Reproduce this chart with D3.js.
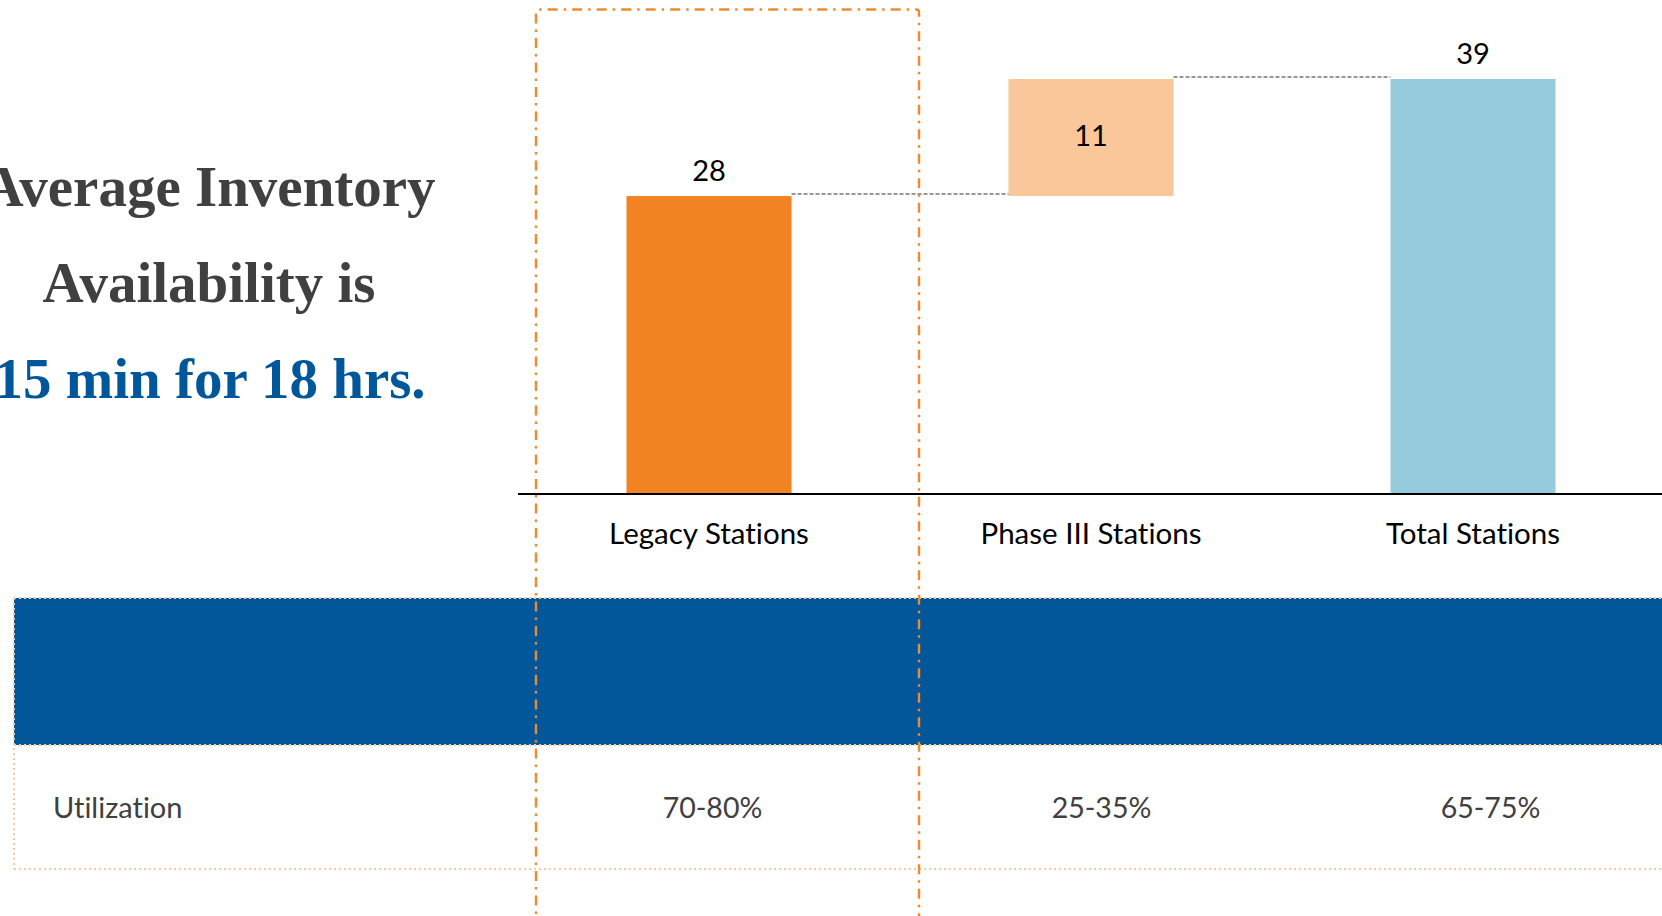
<!DOCTYPE html>
<html>
<head>
<meta charset="utf-8">
<script src="https://cdn.jsdelivr.net/npm/d3@7"></script>
<style>
  html, body { margin: 0; padding: 0; background: #ffffff; overflow: hidden; }
  svg { display: block; }
  text { font-variant-ligatures: none; font-feature-settings: "liga" 0, "clig" 0; }
</style>
</head>
<body>
<svg id="chart" width="1662" height="916"></svg>
<script>
// ---- data ----
const categories = ["Legacy Stations", "Phase III Stations", "Total Stations"];
const stationCounts = [28, 11, 39];
const barKinds = ["base", "delta", "total"];
const utilization = ["70-80%", "25-35%", "65-75%"];
const rowLabel = "Utilization";
const headlineDark = ["Average Inventory", "Availability is"];
const headlineBlue = "15 min for 18 hrs.";

// ---- styles ----
const colors = {
  base: "#F28322",
  delta: "#F9C79A",
  total: "#95CBDD",
  band: "#02569A",
  dark: "#404040",
  blue: "#02569A",
  highlight: "#F08A2C",
  tableBorder: "#F9C9A0",
  connector: "#767676"
};
const labelFont = "Lato, 'Open Sans', sans-serif";

const svg = d3.select("#chart");

// ---- scales ----
const x = d3.scaleBand()
  .domain(categories)
  .range([518, 1664])
  .paddingInner(0.568)
  .paddingOuter(0.284);

const y = d3.scaleLinear()
  .domain([0, 39])
  .range([494, 79]);

// waterfall spans
let running = 0;
const bars = categories.map((c, i) => {
  const kind = barKinds[i];
  const v = stationCounts[i];
  let y0, y1;
  if (kind === "base") { y0 = 0; y1 = v; running = v; }
  else if (kind === "delta") { y0 = running; y1 = running + v; running += v; }
  else { y0 = 0; y1 = v; }
  return { cat: c, kind, value: v, y0, y1 };
});

// ---- headline ----
const headline = svg.append("g")
  .attr("font-family", "'Liberation Serif', 'Times New Roman', serif")
  .attr("font-weight", "bold")
  .attr("font-size", 57)
  .attr("text-anchor", "middle");
headlineDark.forEach((t, i) => {
  headline.append("text")
    .attr("x", 209).attr("y", 206 + i * 96)
    .attr("fill", colors.dark)
    .text(t);
});
headline.append("text")
  .attr("x", 210).attr("y", 398)
  .attr("fill", colors.blue)
  .text(headlineBlue);

// ---- bars ----
svg.append("g").selectAll("rect")
  .data(bars)
  .join("rect")
  .attr("x", d => x(d.cat))
  .attr("width", x.bandwidth())
  .attr("y", d => y(d.y1))
  .attr("height", d => y(d.y0) - y(d.y1))
  .attr("fill", d => colors[d.kind]);

// connectors between consecutive bar tops
const conn = svg.append("g")
  .attr("stroke", colors.connector)
  .attr("stroke-width", 1.5)
  .attr("stroke-dasharray", "4,2");
for (let i = 0; i < bars.length - 1; i++) {
  const level = bars[i].y1;
  conn.append("line")
    .attr("x1", x(bars[i].cat) + x.bandwidth())
    .attr("x2", x(bars[i + 1].cat))
    .attr("y1", y(level) - 2)
    .attr("y2", y(level) - 2);
}

// value labels
svg.append("g").selectAll("text")
  .data(bars)
  .join("text")
  .attr("x", d => x(d.cat) + x.bandwidth() / 2)
  .attr("y", d => d.kind === "delta" ? (y(d.y0) + y(d.y1)) / 2 + 8 : y(d.y1) - 15)
  .attr("text-anchor", "middle")
  .attr("font-family", labelFont)
  .attr("font-size", 29)
  .attr("fill", "#000")
  .text(d => d.value);

// category axis
const axis = svg.append("g")
  .attr("transform", `translate(0,${y(0)})`)
  .call(d3.axisBottom(x).tickSize(0).tickPadding(29));
axis.select(".domain").attr("stroke", "#000").attr("stroke-width", 2.2)
  .attr("d", "M518,0H1662");
axis.selectAll(".tick text")
  .attr("font-family", labelFont)
  .attr("font-size", 29.5)
  .attr("fill", "#000");

// ---- utilization table ----
const tx = d3.scaleBand()
  .domain(categories)
  .range([518, 1685]);

const table = svg.append("g");
table.append("rect")
  .attr("x", 14).attr("y", 598)
  .attr("width", 1660).attr("height", 147)
  .attr("fill", colors.band);
// dotted outline of the table
const dotted = table.append("g")
  .attr("fill", "none")
  .attr("stroke", colors.tableBorder)
  .attr("stroke-width", 2)
  .attr("stroke-dasharray", "2,3");
dotted.append("line").attr("x1", 14).attr("x2", 1662).attr("y1", 598).attr("y2", 598);
dotted.append("line").attr("x1", 14).attr("x2", 1662).attr("y1", 745).attr("y2", 745);
dotted.append("line").attr("x1", 14).attr("x2", 1662).attr("y1", 869).attr("y2", 869);
dotted.append("line").attr("x1", 14).attr("x2", 14).attr("y1", 598).attr("y2", 869);

table.append("text")
  .attr("x", 53).attr("y", 818)
  .attr("font-family", labelFont)
  .attr("font-size", 29)
  .attr("fill", colors.dark)
  .text(rowLabel);

table.selectAll("text.util")
  .data(categories)
  .join("text")
  .attr("class", "util")
  .attr("x", d => tx(d) + tx.bandwidth() / 2)
  .attr("y", 818)
  .attr("text-anchor", "middle")
  .attr("font-family", labelFont)
  .attr("font-size", 28.5)
  .attr("fill", colors.dark)
  .text((d, i) => utilization[i]);

// ---- highlight frame around the first column ----
svg.append("path")
  .attr("d", "M536,930V12Q536,9.5 539,9.5H916Q919,9.5 919,12V930")
  .attr("fill", "none")
  .attr("stroke", colors.highlight)
  .attr("stroke-width", 2.4)
  .attr("stroke-dasharray", "10,6,2.5,6");
</script>
</body>
</html>
